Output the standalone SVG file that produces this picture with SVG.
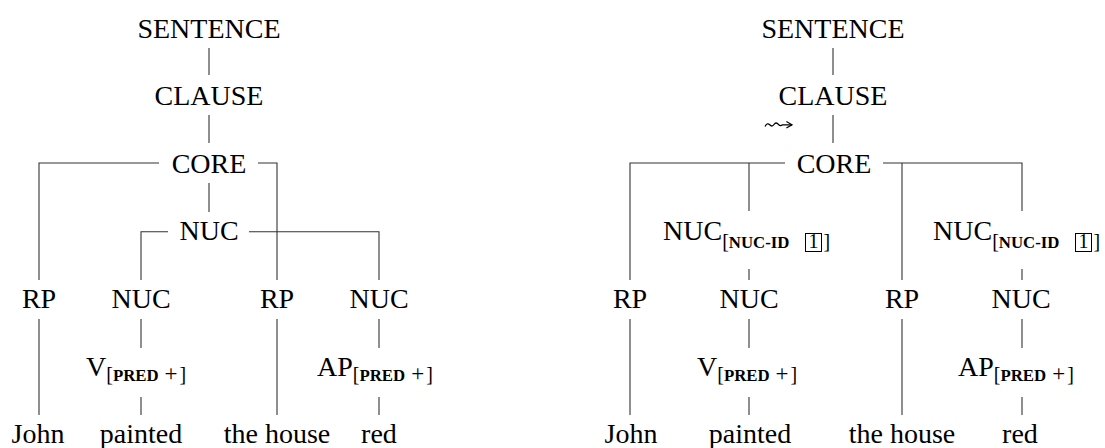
<svg xmlns="http://www.w3.org/2000/svg" width="1105" height="448" viewBox="0 0 1105 448">
  <style>
    text { font-family: 'Liberation Serif', 'Times New Roman', Times, 'DejaVu Serif', serif; }
    .lbl { font-size: 28px; fill: #000; }
    .mid { text-anchor: middle; }
    .sub { font-size: 20px; }
    .op { font-size: 23px; }
    .sc { font-size: 16.8px; font-weight: bold; }
    .edge { stroke: #333; stroke-width: 1.1; fill: none; }
    .box { stroke: #000; stroke-width: 1; fill: none; }
  </style>
  <defs>
    <marker id="head" viewBox="0 0 10 10" refX="9" refY="5" markerWidth="8" markerHeight="8" orient="auto" markerUnits="userSpaceOnUse">
      <path d="M2,1 L9,5 L2,9" stroke="#000" stroke-width="1.5" fill="none"/>
    </marker>
  </defs>

  <!-- tree edges -->
  <g id="connectors" class="edge">
    <!-- left tree -->
    <path d="M209,48 V75 M209,115 V143"/>
    <path d="M39,280 V163 H159 M258,163 H277 V280"/>
    <path d="M209,183 V212"/>
    <path d="M141,280 V231.7 H168 M249,231.7 H379 V280"/>
    <path d="M39,319 V415 M141,319 V348 M277,319 V415 M379,319 V348"/>
    <path d="M141,397 V415 M379,397 V415"/>
    <!-- right tree -->
    <path d="M833,48 V75 M833,115 V143"/>
    <path d="M630,280 V163 H785 M883,163 H1022 V211"/>
    <path d="M749,163 V211 M902,163 V280"/>
    <path d="M749,269 V280 M1022,269 V280"/>
    <path d="M630,319 V415 M749,319 V348 M902,319 V415 M1022,319 V348"/>
    <path d="M749,397 V415 M1022,397 V415"/>
    <!-- squiggly arrow beside CLAUSE -->
    <path d="M765,126.5 Q767,122.5 769.5,124.5 Q772,127.5 774,124.5 Q776,121.5 778.5,124.5 Q780.5,126.5 782.5,124.8 H792" stroke="#000" stroke-width="1.3" marker-end="url(#head)"/>
  </g>

  <!-- left tree nodes -->
  <g id="l-sentence"><text class="lbl mid" x="209" y="37.5">SENTENCE</text></g>
  <g id="l-clause"><text class="lbl mid" x="209" y="105">CLAUSE</text></g>
  <g id="l-core"><text class="lbl mid" x="209" y="172.5">CORE</text></g>
  <g id="l-nuc"><text class="lbl mid" x="209" y="240">NUC</text></g>
  <g id="l-rp1"><text class="lbl mid" x="39" y="308">RP</text></g>
  <g id="l-nuc1"><text class="lbl mid" x="141" y="308">NUC</text></g>
  <g id="l-rp2"><text class="lbl mid" x="277" y="308">RP</text></g>
  <g id="l-nuc2"><text class="lbl mid" x="379" y="308">NUC</text></g>
  <g id="l-v"><text class="lbl" x="86" y="375.5">V<tspan class="sub" dy="5.5">[</tspan><tspan class="sc">PRED</tspan><tspan class="op" dx="6">+</tspan><tspan class="sub" dx="2">]</tspan></text></g>
  <g id="l-ap"><text class="lbl" x="317" y="375.5">AP<tspan class="sub" dy="5.5">[</tspan><tspan class="sc">PRED</tspan><tspan class="op" dx="6">+</tspan><tspan class="sub" dx="2">]</tspan></text></g>
  <g id="l-john"><text class="lbl mid" x="38" y="443">John</text></g>
  <g id="l-painted"><text class="lbl mid" x="141" y="443">painted</text></g>
  <g id="l-house"><text class="lbl mid" x="277" y="443">the house</text></g>
  <g id="l-red"><text class="lbl mid" x="379" y="443">red</text></g>

  <!-- right tree nodes -->
  <g id="r-sentence"><text class="lbl mid" x="833" y="37.5">SENTENCE</text></g>
  <g id="r-clause"><text class="lbl mid" x="833" y="105">CLAUSE</text></g>
  <g id="r-core"><text class="lbl mid" x="834" y="172.5">CORE</text></g>
  <g id="r-nucid1">
    <text class="lbl" x="663" y="240">NUC<tspan class="sub" dy="7.5">[</tspan><tspan class="sc">NUC-ID</tspan></text>
    <rect class="box" x="805.5" y="233.5" width="16" height="18"/>
    <text class="lbl sub mid" x="813.5" y="247.5">1</text>
    <text class="lbl sub" x="823.5" y="247.5">]</text>
  </g>
  <g id="r-nucid2">
    <text class="lbl" x="933" y="240">NUC<tspan class="sub" dy="7.5">[</tspan><tspan class="sc">NUC-ID</tspan></text>
    <rect class="box" x="1075.5" y="233.5" width="16" height="18"/>
    <text class="lbl sub mid" x="1083.5" y="247.5">1</text>
    <text class="lbl sub" x="1093.5" y="247.5">]</text>
  </g>
  <g id="r-rp1"><text class="lbl mid" x="630" y="308">RP</text></g>
  <g id="r-nuc1"><text class="lbl mid" x="749" y="308">NUC</text></g>
  <g id="r-rp2"><text class="lbl mid" x="902" y="308">RP</text></g>
  <g id="r-nuc2"><text class="lbl mid" x="1021" y="308">NUC</text></g>
  <g id="r-v"><text class="lbl" x="697" y="375.5">V<tspan class="sub" dy="5.5">[</tspan><tspan class="sc">PRED</tspan><tspan class="op" dx="6">+</tspan><tspan class="sub" dx="2">]</tspan></text></g>
  <g id="r-ap"><text class="lbl" x="958" y="375.5">AP<tspan class="sub" dy="5.5">[</tspan><tspan class="sc">PRED</tspan><tspan class="op" dx="6">+</tspan><tspan class="sub" dx="2">]</tspan></text></g>
  <g id="r-john"><text class="lbl mid" x="631" y="443">John</text></g>
  <g id="r-painted"><text class="lbl mid" x="750" y="443">painted</text></g>
  <g id="r-house"><text class="lbl mid" x="902" y="443">the house</text></g>
  <g id="r-red"><text class="lbl mid" x="1020" y="443">red</text></g>
</svg>
